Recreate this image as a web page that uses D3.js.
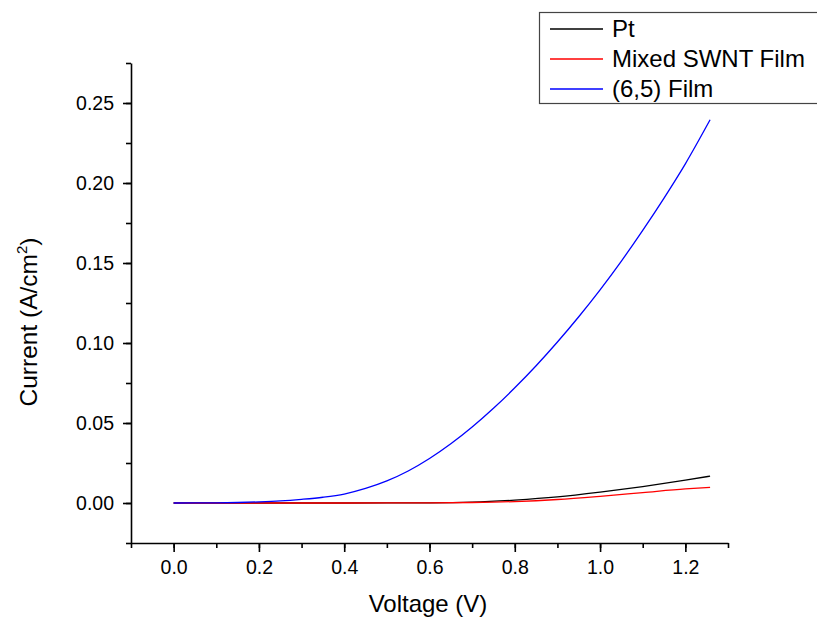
<!DOCTYPE html>
<html><head><meta charset="utf-8">
<script src="https://cdn.jsdelivr.net/npm/d3@7/dist/d3.min.js"></script>
<style>body{margin:0;background:#fff;} text{font-family:Arial,"Liberation Sans",sans-serif;}</style>
</head><body>
<svg id="c" width="817" height="618"></svg>
<script>
const voltage6 = [0.0,0.05,0.1,0.15,0.2,0.25,0.3,0.35,0.4,0.45,0.5,0.55,0.6,0.65,0.7,0.75,0.8,0.85,0.9,0.95,1.0,1.05,1.1,1.15,1.2,1.258];
const film65 = [0,0.00002,0.0001,0.0003,0.0007,0.0013,0.0023,0.0036,0.0056,0.0091,0.0138,0.0200,0.0278,0.0370,0.0475,0.0592,0.0720,0.0858,0.1006,0.1164,0.1332,0.1512,0.1704,0.1906,0.2120,0.2395];
const voltageB = [0.0,0.1,0.2,0.3,0.4,0.5,0.6,0.7,0.8,0.9,1.0,1.1,1.2,1.258];
const pt = [0,0,0,0,0.00001,0.00003,0.0001,0.0005,0.0018,0.0038,0.0068,0.0103,0.0143,0.0168];
const mixed = [0,0,0,0,0.00001,0.00002,0.0001,0.0003,0.0009,0.0022,0.0042,0.0065,0.0088,0.0098];
const xTicks = [0.0,0.2,0.4,0.6,0.8,1.0,1.2];
const yTicks = [0.00,0.05,0.10,0.15,0.20,0.25];
const seriesNames = ["Pt","Mixed SWNT Film","(6,5) Film"];
const seriesColors = ["#000000","#ff0000","#0000ff"];

const svg = d3.select("#c");
const x = d3.scaleLinear().domain([-0.1,1.3]).range([131,728]);
const y = d3.scaleLinear().domain([-0.025,0.275]).range([543,63]);

const series = [
  {xs: voltageB, ys: pt},
  {xs: voltageB, ys: mixed},
  {xs: voltage6, ys: film65}
];
const line = d3.line().x(d=>x(d[0])).y(d=>y(d[1])).curve(d3.curveMonotoneX);
series.forEach((s,i)=>{
  svg.append("path").datum(s.xs.map((v,j)=>[v,s.ys[j]]))
    .attr("d",line).attr("fill","none").attr("stroke",seriesColors[i]).attr("stroke-width",1.3);
});

// axes
const xMinor = d3.range(-0.1,1.31,0.1).map(v=>+v.toFixed(2));
const yMinor = d3.range(-0.025,0.276,0.025).map(v=>+v.toFixed(3));
const gx = svg.append("g").attr("transform","translate(0,543)");
gx.call(d3.axisBottom(x).tickValues(xMinor).tickSize(5).tickFormat(""));
gx.call(g=>g.select(".domain").remove());
const gx2 = svg.append("g").attr("transform","translate(0,543)");
gx2.call(d3.axisBottom(x).tickValues(xTicks).tickSize(9).tickPadding(8).tickSizeOuter(0).tickFormat(d3.format(".1f")));
gx2.selectAll("text").attr("font-size","19.5px").attr("fill","#000");

const gy = svg.append("g").attr("transform","translate(131,0)");
gy.call(d3.axisLeft(y).tickValues(yMinor).tickSize(5).tickFormat(""));
gy.call(g=>g.select(".domain").remove());
const gy2 = svg.append("g").attr("transform","translate(131,0)");
gy2.call(d3.axisLeft(y).tickValues(yTicks).tickSize(8).tickPadding(9).tickSizeOuter(0).tickFormat(d3.format(".2f")));
gy2.selectAll("text").attr("font-size","19.5px").attr("fill","#000");
svg.selectAll("g line, g path.domain").attr("stroke","#000").attr("stroke-width",1.6);

// axis titles
svg.append("text").attr("x",428).attr("y",612).attr("text-anchor","middle").attr("font-size","24px").text("Voltage (V)");
const yt = svg.append("text").attr("transform","translate(37,322) rotate(-90)").attr("text-anchor","middle").attr("font-size","24.5px");
yt.append("tspan").text("Current (A/cm");
yt.append("tspan").attr("font-size","15px").attr("dy","-10").text("2");
yt.append("tspan").attr("dy","10").text(")");

// legend
const lg = svg.append("g");
lg.append("rect").attr("x",539.5).attr("y",12.5).attr("width",300).attr("height",91).attr("fill","#fff").attr("stroke","#444").attr("stroke-width",1.2);
const rowsY = [29,59,89];
seriesNames.forEach((n,i)=>{
  lg.append("line").attr("x1",550).attr("x2",603).attr("y1",rowsY[i]).attr("y2",rowsY[i]).attr("stroke",seriesColors[i]).attr("stroke-width",1.3);
  lg.append("text").attr("x",612).attr("y",rowsY[i]+8).attr("font-size","24px").text(n);
});
</script>
</body></html>
